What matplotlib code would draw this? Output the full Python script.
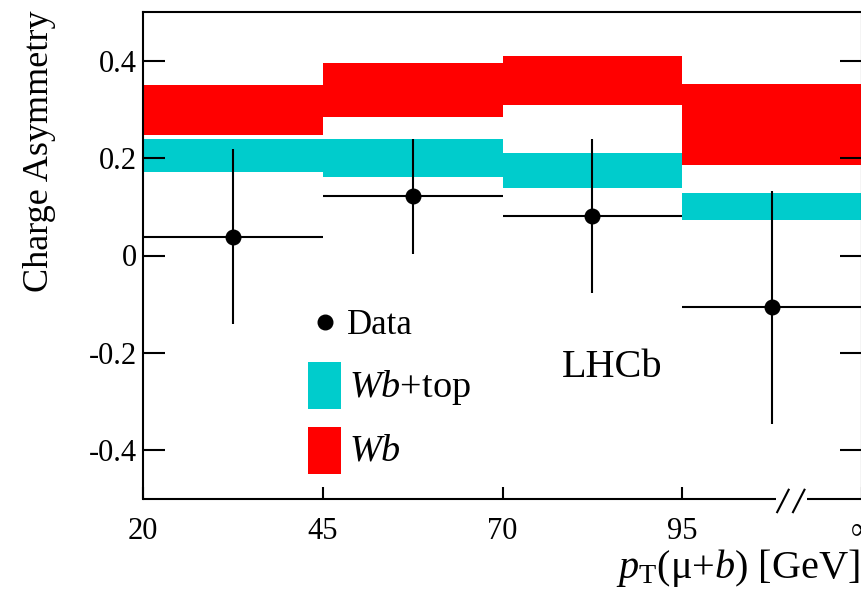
"""LHCb charge asymmetry vs pT(mu+b): data vs Wb and Wb+top predictions."""

import matplotlib

matplotlib.use("Agg")

import matplotlib.pyplot as plt
import numpy as np

plt.rcParams["font.family"] = ["Liberation Serif", "DejaVu Serif"]
plt.rcParams["mathtext.fontset"] = "custom"
plt.rcParams["mathtext.rm"] = "Liberation Serif"
plt.rcParams["mathtext.it"] = "Liberation Serif:italic"

# bin edges (last bin is 95 -> infinity, drawn as 95 -> 120)
bin_edges = [20, 45, 70, 95, 120]
x_tick_labels = ["20", "45", "70", "95", "\u221e"]
y_ticks = [-0.4, -0.2, 0.0, 0.2, 0.4]
y_tick_labels = ["-0.4", "-0.2", "0", "0.2", "0.4"]

# Wb prediction band (low, high)
wb_lo = [0.247, 0.284, 0.309, 0.185]
wb_hi = [0.350, 0.396, 0.409, 0.352]

# Wb+top prediction band (low, high)
wbtop_lo = [0.171, 0.162, 0.139, 0.073]
wbtop_hi = [0.240, 0.240, 0.210, 0.129]

# data with asymmetric errors
data_val = [0.038, 0.122, 0.081, -0.106]
data_err_up = [0.180, 0.118, 0.159, 0.238]
data_err_dn = [0.179, 0.118, 0.159, 0.239]

RED = "#ff0000"
CYAN = "#00cccc"

edges = np.array(bin_edges, dtype=float)
widths = np.diff(edges)
centers = edges[:-1] + widths / 2

fig = plt.figure(figsize=(8.61, 5.97), dpi=100)
ax = fig.add_axes([143 / 861, 98 / 597, 719 / 861, 487 / 597])

ax.bar(edges[:-1], np.array(wb_hi) - np.array(wb_lo), bottom=wb_lo,
       width=widths, align="edge", color=RED, lw=0, zorder=1)
ax.bar(edges[:-1], np.array(wbtop_hi) - np.array(wbtop_lo), bottom=wbtop_lo,
       width=widths, align="edge", color=CYAN, lw=0, zorder=1)
ax.errorbar(centers, data_val, xerr=widths / 2,
            yerr=[data_err_dn, data_err_up], fmt="o", color="black",
            ms=10.5, elinewidth=1.5, capsize=0, zorder=3)

ax.set_xlim(edges[0], edges[-1])
ax.set_ylim(-0.5, 0.5)
ax.set_xticks(bin_edges)
ax.set_xticklabels(x_tick_labels)
ax.set_yticks(y_ticks)
ax.set_yticklabels(y_tick_labels)
ax.tick_params(axis="y", direction="in", length=15.8, width=1.5,
               right=True, labelsize=22, pad=4.5)
ax.tick_params(axis="x", direction="in", length=8.6, width=1.5,
               top=False, labelsize=22, pad=13)

for side in ("left", "top", "right"):
    ax.spines[side].set_linewidth(1.5)
ax.spines["bottom"].set_visible(False)

# bottom axis line with a "//" break
bt = ax.get_xaxis_transform()
ax.plot([edges[0], 108.1], [0, 0], color="black", lw=1.5,
        transform=bt, clip_on=False, solid_capstyle="butt")
ax.plot([112.3, edges[-1]], [0, 0], color="black", lw=1.5,
        transform=bt, clip_on=False, solid_capstyle="butt")
for x0 in (108.2, 110.4):
    ax.plot([x0, x0 + 1.6], [-0.027, 0.019], color="black", lw=1.5,
            transform=bt, clip_on=False)

# legend drawn by hand
ax.plot([0.2533], [0.3634], "o", color="black", ms=10.5,
        transform=ax.transAxes, clip_on=False)
ax.text(0.2833, 0.3388, "Data", fontsize=25, transform=ax.transAxes,
        va="baseline", ha="left")
for (y0, color, label, base) in [(0.1848, CYAN, "$Wb$+top", 0.2094),
                                 (0.0513, RED, "$Wb$", 0.080)]:
    ax.add_patch(plt.Rectangle((0.2295, y0), 0.0459, 0.0975,
                               transform=ax.transAxes, color=color,
                               lw=0, zorder=2))
    ax.text(0.2865, base, label, fontsize=27.5, transform=ax.transAxes,
            va="baseline", ha="left")

ax.text(0.5828, 0.2511, "LHCb", fontsize=29, transform=ax.transAxes,
        va="baseline", ha="left")

ax.text(-0.1433, 1.004, "Charge Asymmetry", fontsize=26, rotation=90,
        transform=ax.transAxes, ha="center", va="top")
ax.text(0.9972, -0.1622, "$p_{\\mathrm{T}}$(\u03bc+$b$) [GeV]",
        fontsize=29, transform=ax.transAxes, ha="right", va="baseline")

fig.savefig("out.png", dpi=100)
